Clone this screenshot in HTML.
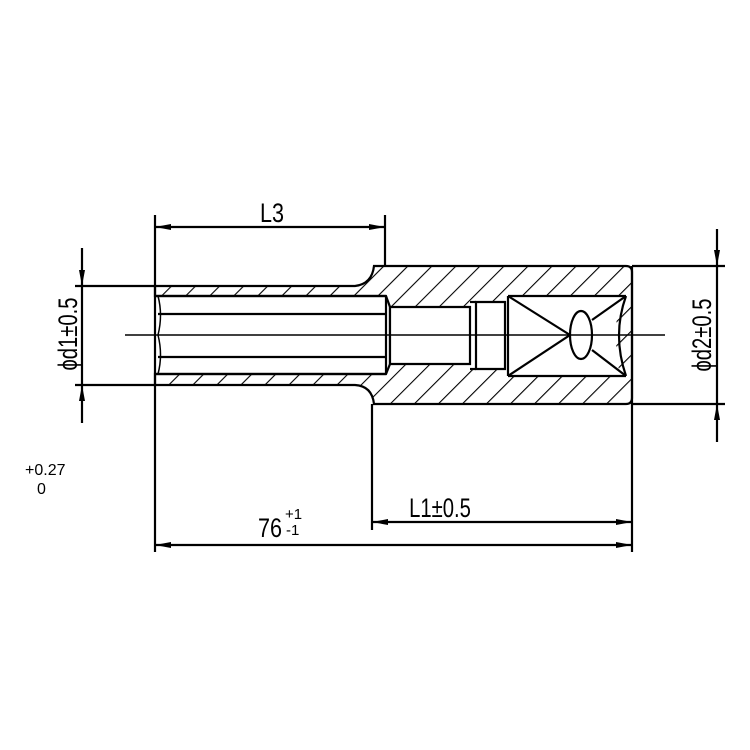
<!DOCTYPE html>
<html><head><style>body{margin:0;background:#fff}svg{display:block}text{font-family:"Liberation Sans",sans-serif;fill:#000}</style></head>
<body>
<svg width="750" height="750" viewBox="0 0 750 750" xmlns="http://www.w3.org/2000/svg">
<defs>
<pattern id="h" patternUnits="userSpaceOnUse" width="17" height="17" patternTransform="rotate(45)">
<line x1="0" y1="0" x2="0" y2="17" stroke="#000" stroke-width="2.2"/>
</pattern>
<marker id="a" viewBox="0 0 16 6" refX="16" refY="3" markerWidth="16" markerHeight="6" markerUnits="userSpaceOnUse" orient="auto"><path d="M0,0L16,3L0,6z" fill="#000"/></marker>
</defs>
<g stroke="#000" stroke-width="2.2" fill="none">
<path d="M155,286 H355 Q372,284 374,266 H626 Q632,266 632,272 V398 Q632,404 626,404 H374 Q372,386 355,385 H155 V374 H386 L390,364 V307 L386,296 H155 Z" fill="url(#h)"/>
<path d="M390,307 H470 V302 H505 V296 H620 Q612,335 620,376 H505 V369 H470 V364 H390 Z" fill="#fff" stroke="none"/>
<line x1="155" y1="296" x2="386" y2="296"/>
<line x1="155" y1="374" x2="386" y2="374"/>
<line x1="158" y1="314" x2="386" y2="314"/>
<line x1="158" y1="357" x2="386" y2="357"/>
<line x1="386" y1="296" x2="386" y2="374"/>
<path d="M158,296 Q163,315 158,335 Q163,355 158,374" stroke-width="1.5"/>
<path d="M390,307 H470 V364 H390 Z"/>
<path d="M476,302 H505 V369 H476 Z"/>
<line x1="470" y1="302" x2="476" y2="302"/><line x1="470" y1="369" x2="476" y2="369"/>
<line x1="508" y1="296" x2="508" y2="376"/>
<path d="M508,296 H626 M508,376 H626"/>
<path d="M626,296 Q612,335 626,376"/>
<path d="M508,296 L570,335 L508,376 M626,296 L592,320 M626,376 L592,350"/>
<ellipse cx="581" cy="335" rx="11" ry="24"/>
<line x1="125" y1="335" x2="665" y2="335" stroke-width="1.5"/>
<line x1="155" y1="215" x2="155" y2="552"/>
<line x1="385" y1="215" x2="385" y2="266"/>
<line x1="372" y1="404" x2="372" y2="530"/>
<line x1="632" y1="266" x2="632" y2="552"/>
<line x1="75" y1="286" x2="155" y2="286"/>
<line x1="75" y1="385" x2="155" y2="385"/>
<line x1="632" y1="266" x2="725" y2="266"/>
<line x1="632" y1="404" x2="725" y2="404"/>
<line x1="270" y1="227" x2="155" y2="227" marker-end="url(#a)"/>
<line x1="270" y1="227" x2="385" y2="227" marker-end="url(#a)"/>
<line x1="500" y1="522" x2="372" y2="522" marker-end="url(#a)"/>
<line x1="500" y1="522" x2="632" y2="522" marker-end="url(#a)"/>
<line x1="400" y1="545" x2="155" y2="545" marker-end="url(#a)"/>
<line x1="400" y1="545" x2="632" y2="545" marker-end="url(#a)"/>
<line x1="82" y1="248" x2="82" y2="286" marker-end="url(#a)"/>
<line x1="82" y1="423" x2="82" y2="385" marker-end="url(#a)"/>
<line x1="82" y1="286" x2="82" y2="385"/>
<line x1="717" y1="229" x2="717" y2="266" marker-end="url(#a)"/>
<line x1="717" y1="442" x2="717" y2="404" marker-end="url(#a)"/>
<line x1="717" y1="266" x2="717" y2="404"/>
</g>
<text x="0" y="0" font-size="27" text-anchor="middle" transform="translate(272 222) scale(0.8 1)">L3</text>
<text x="0" y="0" font-size="27" text-anchor="middle" transform="translate(440 517) scale(0.75 1)">L1±0.5</text>
<text x="0" y="0" font-size="27" text-anchor="middle" transform="translate(270 537) scale(0.8 1)">76</text>
<text x="285" y="519" font-size="15">+1</text>
<text x="286" y="535" font-size="15">-1</text>
<text x="25" y="475" font-size="16">+0.27</text>
<text x="37" y="494" font-size="16">0</text>
<text x="0" y="0" font-size="27" text-anchor="middle" transform="translate(77 334) rotate(-90) scale(0.75 1)">ϕd1±0.5</text>
<text x="0" y="0" font-size="27" text-anchor="middle" transform="translate(711 335) rotate(-90) scale(0.75 1)">ϕd2±0.5</text>
</svg>
</body></html>
